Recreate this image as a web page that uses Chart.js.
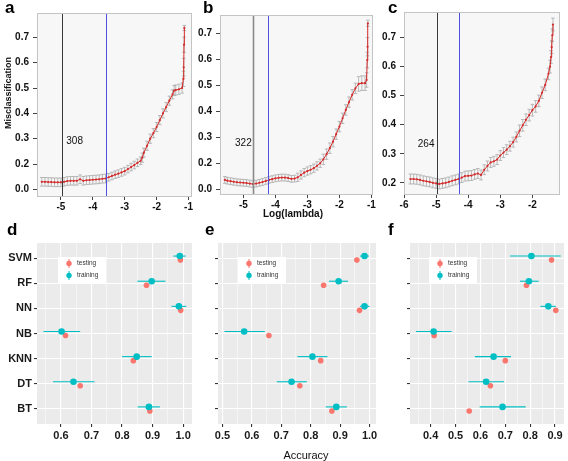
<!DOCTYPE html>
<html>
<head>
  <meta charset="utf-8">
  <title>Lasso CV curves and classifier accuracy</title>
  <script src="https://cdn.jsdelivr.net/npm/chart.js"></script>
  <style>
    body { margin: 0; background: #fff; font-family: 'Liberation Sans', Arial, sans-serif; }
    #fig { position: relative; width: 568px; height: 461px; overflow: hidden; }
    canvas { position: absolute; }
    .tag { position: absolute; font: bold 17px 'Liberation Sans', Arial, sans-serif; line-height: 17px; color: #000; }
    .lab { position: absolute; white-space: nowrap; color: #111; line-height: 12px; }
  </style>
</head>
<body>
  <div id="fig">
    <canvas id="a" width="196" height="226" style="left:0;top:0"></canvas>
    <canvas id="b" width="184" height="226" style="left:196px;top:0"></canvas>
    <canvas id="c" width="194" height="226" style="left:374px;top:0"></canvas>
    <canvas id="d" width="196" height="233" style="left:0;top:228px"></canvas>
    <canvas id="e" width="184" height="233" style="left:196px;top:228px"></canvas>
    <canvas id="f" width="184" height="233" style="left:384px;top:228px"></canvas>

    <div class="tag" style="left:5px;top:-1px">a</div>
    <div class="tag" style="left:203px;top:-1px">b</div>
    <div class="tag" style="left:388px;top:-1px">c</div>
    <div class="tag" style="left:7px;top:221px">d</div>
    <div class="tag" style="left:205px;top:221px">e</div>
    <div class="tag" style="left:388px;top:221px">f</div>

    <div class="lab" style="left:-34px;top:88px;width:84px;text-align:center;font:bold 9px 'Liberation Sans',Arial;transform:rotate(-90deg)">Misclassification</div>
    <div class="lab" style="left:253px;top:208px;width:80px;text-align:center;font:bold 10px 'Liberation Sans',Arial">Log(lambda)</div>
    <div class="lab" style="left:266px;top:449px;width:80px;text-align:center;font:11px 'Liberation Sans',Arial">Accuracy</div>
  </div>

  <script>
    // ---- a-c: cross-validated misclassification vs log(lambda) ----
    const aLogLambda = [-5.6, -5.5, -5.4, -5.3, -5.2, -5.1, -5.0, -4.9, -4.8, -4.7,
                        -4.6, -4.5, -4.4, -4.3, -4.2, -4.1, -4.0, -3.9, -3.8, -3.7,
                        -3.6, -3.5, -3.4, -3.3, -3.2, -3.1, -3.0, -2.9, -2.8, -2.7,
                        -2.6, -2.5, -2.45, -2.4, -2.3, -2.2, -2.1, -2.0, -1.9, -1.8,
                        -1.7, -1.6, -1.5, -1.45, -1.4, -1.3, -1.2, -1.16, -1.15, -1.14, -1.13];
    const aMisclass = [0.130, 0.130, 0.129, 0.129, 0.128, 0.128, 0.128, 0.130, 0.133, 0.134,
                       0.134, 0.134, 0.140, 0.134, 0.136, 0.137, 0.138, 0.139, 0.140, 0.142,
                       0.143, 0.148, 0.153, 0.158, 0.162, 0.167, 0.172, 0.180, 0.188, 0.196,
                       0.205, 0.213, 0.225, 0.245, 0.272, 0.300, 0.322, 0.346, 0.373, 0.400,
                       0.425, 0.450, 0.475, 0.490, 0.492, 0.495, 0.500, 0.536, 0.582, 0.671, 0.737];
    const aSE = [0.017, 0.017, 0.017, 0.017, 0.017, 0.017, 0.017, 0.017, 0.017, 0.017,
                 0.017, 0.017, 0.017, 0.017, 0.017, 0.017, 0.017, 0.017, 0.017, 0.017,
                 0.017, 0.015, 0.015, 0.015, 0.015, 0.015, 0.015, 0.015, 0.015, 0.015,
                 0.015, 0.015, 0.018, 0.018, 0.018, 0.018, 0.018, 0.018, 0.018, 0.018,
                 0.018, 0.018, 0.018, 0.020, 0.020, 0.020, 0.020, 0.030, 0.035, 0.030, 0.010];

    const bLogLambda = [-5.58, -5.5, -5.4, -5.3, -5.2, -5.1, -5.0, -4.9, -4.8, -4.7,
                        -4.6, -4.5, -4.4, -4.3, -4.2, -4.1, -4.0, -3.9, -3.8, -3.7,
                        -3.6, -3.5, -3.4, -3.3, -3.2, -3.1, -3.0, -2.9, -2.8, -2.7,
                        -2.6, -2.5, -2.4, -2.3, -2.2, -2.1, -2.0, -1.9, -1.8, -1.7,
                        -1.6, -1.5, -1.4, -1.3, -1.2, -1.15, -1.13, -1.12, -1.11];
    const bMisclass = [0.136, 0.133, 0.131, 0.129, 0.127, 0.126, 0.125, 0.124, 0.122, 0.120,
                       0.122, 0.125, 0.128, 0.132, 0.136, 0.139, 0.142, 0.144, 0.145, 0.145,
                       0.143, 0.140, 0.141, 0.146, 0.155, 0.164, 0.170, 0.175, 0.181, 0.190,
                       0.200, 0.215, 0.235, 0.258, 0.283, 0.312, 0.341, 0.373, 0.405, 0.435,
                       0.463, 0.488, 0.505, 0.508, 0.508, 0.520, 0.597, 0.648, 0.738];
    const bSE = [0.013, 0.013, 0.013, 0.013, 0.013, 0.013, 0.013, 0.013, 0.013, 0.013,
                 0.013, 0.013, 0.013, 0.013, 0.013, 0.013, 0.013, 0.013, 0.013, 0.013,
                 0.013, 0.013, 0.013, 0.016, 0.016, 0.016, 0.016, 0.016, 0.016, 0.016,
                 0.016, 0.020, 0.020, 0.020, 0.020, 0.020, 0.020, 0.020, 0.020, 0.020,
                 0.020, 0.020, 0.028, 0.028, 0.028, 0.028, 0.030, 0.035, 0.012];

    const cLogLambda = [-5.8, -5.7, -5.6, -5.5, -5.4, -5.3, -5.2, -5.1, -5.0, -4.9,
                        -4.8, -4.7, -4.6, -4.5, -4.4, -4.3, -4.2, -4.1, -4.0, -3.9,
                        -3.8, -3.7, -3.6, -3.5, -3.4, -3.3, -3.2, -3.1, -3.0, -2.9,
                        -2.8, -2.7, -2.6, -2.5, -2.4, -2.3, -2.2, -2.1, -2.0, -1.9,
                        -1.8, -1.7, -1.6, -1.5, -1.45, -1.42, -1.40, -1.38, -1.36];
    const cMisclass = [0.213, 0.213, 0.212, 0.210, 0.207, 0.205, 0.203, 0.200, 0.198, 0.196,
                       0.198, 0.200, 0.203, 0.207, 0.210, 0.213, 0.218, 0.223, 0.224, 0.225,
                       0.229, 0.232, 0.227, 0.245, 0.258, 0.270, 0.274, 0.280, 0.294, 0.304,
                       0.314, 0.326, 0.340, 0.358, 0.379, 0.398, 0.417, 0.433, 0.450, 0.463,
                       0.482, 0.510, 0.537, 0.575, 0.600, 0.633, 0.667, 0.708, 0.745];
    const cSE = [0.017, 0.017, 0.017, 0.017, 0.017, 0.017, 0.017, 0.017, 0.017, 0.017,
                 0.017, 0.017, 0.017, 0.017, 0.017, 0.017, 0.017, 0.017, 0.017, 0.017,
                 0.017, 0.017, 0.017, 0.017, 0.017, 0.017, 0.017, 0.017, 0.017, 0.017,
                 0.017, 0.017, 0.017, 0.017, 0.020, 0.020, 0.020, 0.020, 0.020, 0.020,
                 0.020, 0.020, 0.020, 0.020, 0.022, 0.022, 0.022, 0.022, 0.022];

    // lambda.min / lambda.1se markers and number of selected features
    const aMarks = [-4.96, -3.58], bMarks = [-4.69, -4.22], cMarks = [-4.97, -4.28];
    const aCount = '308', bCount = '322', cCount = '264';

    // tick values / labels (bottom tick of a and b is printed as 0.0)
    const lambdaTicksAB = [-5, -4, -3, -2, -1];
    const lambdaTicksC = [-6, -5, -4, -3, -2];
    const misTicksAB = [0.1, 0.2, 0.3, 0.4, 0.5, 0.6, 0.7];
    const misLabelsAB = ['0.0', '0.2', '0.3', '0.4', '0.5', '0.6', '0.7'];
    const misTicksC = [0.2, 0.3, 0.4, 0.5, 0.6, 0.7];
    const misLabelsC = ['0.2', '0.3', '0.4', '0.5', '0.6', '0.7'];

    // ---- d-f: accuracy per classifier ----
    const models = ['SVM', 'RF', 'NN', 'NB', 'KNN', 'DT', 'BT'];
    const dTrain   = [0.989, 0.897, 0.986, 0.602, 0.848, 0.641, 0.888];
    const dTrainLo = [0.968, 0.850, 0.962, 0.543, 0.800, 0.574, 0.851];
    const dTrainHi = [1.008, 0.942, 1.010, 0.663, 0.897, 0.710, 0.924];
    const dTest    = [0.991, 0.880, 0.992, 0.615, 0.837, 0.663, 0.891];

    const eTrain   = [0.983, 0.895, 0.983, 0.574, 0.806, 0.735, 0.887];
    const eTrainLo = [0.968, 0.862, 0.968, 0.507, 0.755, 0.685, 0.851];
    const eTrainHi = [0.998, 0.927, 1.000, 0.644, 0.857, 0.787, 0.923];
    const eTest    = [0.957, 0.844, 0.966, 0.658, 0.834, 0.763, 0.872];

    const fTrain   = [0.805, 0.795, 0.873, 0.412, 0.653, 0.623, 0.689];
    const fTrainLo = [0.719, 0.759, 0.841, 0.341, 0.578, 0.552, 0.597];
    const fTrainHi = [0.923, 0.834, 0.903, 0.484, 0.723, 0.695, 0.782];
    const fTest    = [0.886, 0.785, 0.903, 0.414, 0.700, 0.640, 0.555];

    const dAccTicks = [0.6, 0.7, 0.8, 0.9, 1.0];
    const eAccTicks = [0.5, 0.6, 0.7, 0.8, 0.9, 1.0];
    const fAccTicks = [0.4, 0.5, 0.6, 0.7, 0.8, 0.9];

    const FONT = "'Liberation Sans', Arial, sans-serif";
    const RED = '#F8766D', TEAL = '#00BFC4';

    // background, error bars, marker lines, notes and the small legend
    const panelPlugin = {
      id: 'panel',
      beforeDraw(chart, args, o) {
        const a = chart.chartArea, ctx = chart.ctx;
        ctx.save();
        ctx.fillStyle = o.bg;
        ctx.fillRect(a.left, a.top, a.right - a.left, a.bottom - a.top);
        ctx.restore();
      },
      beforeDatasetsDraw(chart) {
        const ctx = chart.ctx, xs = chart.scales.x, ys = chart.scales.y;
        chart.data.datasets.forEach(ds => {
          const e = ds.errorBars;
          if (!e) return;
          ctx.save();
          ctx.strokeStyle = e.color;
          ctx.lineWidth = e.width;
          ds.data.forEach((p, i) => {
            ctx.beginPath();
            if (e.horizontal) {
              const py = ys.getPixelForValue(p.y);
              ctx.moveTo(xs.getPixelForValue(e.lo[i]), py);
              ctx.lineTo(xs.getPixelForValue(e.hi[i]), py);
            } else {
              const px = xs.getPixelForValue(p.x);
              const y1 = ys.getPixelForValue(e.lo[i]), y2 = ys.getPixelForValue(e.hi[i]);
              ctx.moveTo(px, y1); ctx.lineTo(px, y2);
              ctx.moveTo(px - e.cap, y1); ctx.lineTo(px + e.cap, y1);
              ctx.moveTo(px - e.cap, y2); ctx.lineTo(px + e.cap, y2);
            }
            ctx.stroke();
          });
          ctx.restore();
        });
      },
      afterDatasetsDraw(chart, args, o) {
        const ctx = chart.ctx, a = chart.chartArea, xs = chart.scales.x, ys = chart.scales.y;
        ctx.save();
        (o.vlines || []).forEach(v => {
          const px = Math.round(xs.getPixelForValue(v.x)) + 0.5;
          ctx.strokeStyle = v.color;
          ctx.lineWidth = v.width;
          ctx.beginPath(); ctx.moveTo(px, a.top); ctx.lineTo(px, a.bottom); ctx.stroke();
        });
        if (o.note) {
          ctx.fillStyle = '#111';
          ctx.font = '10px ' + FONT;
          ctx.textAlign = 'center';
          ctx.textBaseline = 'middle';
          ctx.fillText(o.note.text, xs.getPixelForValue(o.note.x), ys.getPixelForValue(o.note.y));
        }
        if (o.frame) {
          ctx.strokeStyle = o.frame;
          ctx.lineWidth = 1;
          ctx.strokeRect(Math.round(a.left) + 0.5, Math.round(a.top) + 0.5,
                         Math.round(a.right - a.left) - 1, Math.round(a.bottom - a.top) - 1);
        }
        if (o.key) {
          const bx = a.left + o.key.dx, by = a.top + o.key.dy;
          ctx.fillStyle = '#fff';
          ctx.fillRect(bx, by, 48, 26);
          [['testing', RED, 6.5], ['training', TEAL, 18.5]].forEach(([txt, col, dy]) => {
            const cy = by + dy, cx = bx + 11;
            ctx.strokeStyle = col; ctx.lineWidth = 1;
            ctx.beginPath(); ctx.moveTo(cx, cy - 4.5); ctx.lineTo(cx, cy + 4.5); ctx.stroke();
            ctx.fillStyle = col;
            ctx.beginPath(); ctx.arc(cx, cy, 2.7, 0, Math.PI * 2); ctx.fill();
            ctx.fillStyle = '#333';
            ctx.font = '6.5px ' + FONT;
            ctx.textAlign = 'left';
            ctx.textBaseline = 'middle';
            ctx.fillText(txt, bx + 19, cy);
          });
        }
        ctx.restore();
      }
    };

    function fixedTicks(values) {
      return s => { s.ticks = values.map(v => ({ value: v })); };
    }

    function cvChart(id, xs, ys, se, marks, count, note, box) {
      const pts = xs.map((x, i) => ({ x: x, y: ys[i] }));
      new Chart(document.getElementById(id), {
        type: 'scatter',
        data: {
          datasets: [{
            data: pts,
            showLine: true,
            borderColor: '#d42a2a',
            borderWidth: 1,
            pointRadius: 1.1,
            pointBackgroundColor: '#d42a2a',
            pointBorderWidth: 0,
            errorBars: {
              lo: ys.map((v, i) => v - se[i]),
              hi: ys.map((v, i) => v + se[i]),
              color: '#a9a9a9', width: 0.8, cap: 1.8
            }
          }]
        },
        options: {
          responsive: false,
          animation: false,
          devicePixelRatio: 1,
          layout: { padding: { top: box.top, right: box.right, left: 0, bottom: 0 } },
          scales: {
            x: {
              type: 'linear', min: box.xMin, max: box.xMax,
              afterBuildTicks: fixedTicks(box.xTicks),
              afterFit: s => { s.height = box.xH; },
              ticks: { font: { family: FONT, size: 10, weight: 'bold' }, color: '#111',
                       padding: 1, maxRotation: 0, autoSkip: false },
              grid: { drawOnChartArea: false, color: '#444', tickLength: 3 },
              border: { display: false }
            },
            y: {
              type: 'linear', min: box.yMin, max: box.yMax,
              afterBuildTicks: fixedTicks(box.yTicks),
              afterFit: s => { s.width = box.yW; },
              ticks: { font: { family: FONT, size: 10, weight: 'bold' }, color: '#111',
                       padding: 4, autoSkip: false, callback: (v, i) => box.yLabels[i] },
              grid: { drawOnChartArea: false, color: '#444', tickLength: 4 },
              border: { display: false }
            }
          },
          plugins: {
            legend: { display: false },
            tooltip: { enabled: false },
            panel: {
              bg: '#f7f7f7',
              frame: '#c4c4c4',
              vlines: [{ x: marks[0], color: box.minColor, width: box.minWidth },
                       { x: marks[1], color: '#4f4fe0', width: 1 }],
              note: { text: count, x: note[0], y: note[1] }
            }
          }
        },
        plugins: [panelPlugin]
      });
    }

    function accChart(id, train, lo, hi, test, majors, box) {
      const n = models.length;
      const rowOf = i => n - i;  // SVM on top
      const ticks = [];
      majors.forEach(m => {
        [m - 0.05, m].forEach(t => { if (t >= box.xMin && t <= box.xMax) ticks.push(t); });
      });
      const last = majors[majors.length - 1] + 0.05;
      if (last <= box.xMax) ticks.push(last);
      const isMajor = v => majors.includes(v);

      new Chart(document.getElementById(id), {
        type: 'scatter',
        data: {
          datasets: [
            {
              label: 'training',
              data: train.map((v, i) => ({ x: v, y: rowOf(i) + 0.08 })),
              pointRadius: 3.3, pointBackgroundColor: TEAL, pointBorderWidth: 0,
              errorBars: { horizontal: true, lo: lo, hi: hi, color: TEAL, width: 1.1 }
            },
            {
              label: 'testing',
              data: test.map((v, i) => ({ x: v, y: rowOf(i) - 0.08 })),
              pointRadius: 2.8, pointBackgroundColor: RED, pointBorderWidth: 0
            }
          ]
        },
        options: {
          responsive: false,
          animation: false,
          devicePixelRatio: 1,
          layout: { padding: { top: 15, right: box.right, left: 0, bottom: 0 } },
          scales: {
            x: {
              type: 'linear', min: box.xMin, max: box.xMax,
              afterBuildTicks: fixedTicks(ticks),
              afterFit: s => { s.height = 37; },
              ticks: { font: { family: FONT, size: 11, weight: 'bold' }, color: '#1a1a1a',
                       padding: 2, maxRotation: 0, autoSkip: false,
                       callback: (v) => isMajor(v) ? v.toFixed(1) : '' },
              grid: {
                color: '#ffffff',
                lineWidth: c => (c.tick && isMajor(c.tick.value)) ? 1.1 : 0.5,
                tickColor: c => (c.tick && isMajor(c.tick.value)) ? '#333' : 'rgba(0,0,0,0)',
                tickLength: 3
              },
              border: { display: false }
            },
            y: {
              type: 'linear', min: 0.4, max: n + 0.6,
              afterBuildTicks: fixedTicks(models.map((m, i) => rowOf(i)).reverse()),
              afterFit: s => { s.width = box.yW; },
              ticks: { font: { family: FONT, size: 11, weight: 'bold' }, color: '#1a1a1a',
                       padding: 2, autoSkip: false,
                       callback: v => box.showNames ? models[n - v] : '' },
              grid: { color: '#ffffff', lineWidth: 1.1, tickColor: '#333', tickLength: 3 },
              border: { display: false }
            }
          },
          plugins: {
            legend: { display: false },
            tooltip: { enabled: false },
            panel: { bg: '#ebebeb', key: { dx: box.keyDx, dy: 14 } }
          }
        },
        plugins: [panelPlugin]
      });
    }

    cvChart('a', aLogLambda, aMisclass, aSE, aMarks, aCount, [-4.57, 0.291], {
      top: 13, right: 3, yW: 37, xH: 29, xMin: -5.75, xMax: -0.89, yMin: 0.07, yMax: 0.796,
      xTicks: lambdaTicksAB, yTicks: misTicksAB, yLabels: misLabelsAB, minColor: '#3a3a3a', minWidth: 1
    });
    cvChart('b', bLogLambda, bMisclass, bSE, bMarks, bCount, [-5.0, 0.278], {
      top: 15, right: 7, yW: 24, xH: 31, xMin: -5.73, xMax: -0.95, yMin: 0.078, yMax: 0.770,
      xTicks: lambdaTicksAB, yTicks: misTicksAB, yLabels: misLabelsAB, minColor: '#8a8a8a', minWidth: 1.6
    });
    cvChart('c', cLogLambda, cMisclass, cSE, cMarks, cCount, [-5.31, 0.331], {
      top: 12, right: 8, yW: 30, xH: 31, xMin: -6.0, xMax: -1.14, yMin: 0.158, yMax: 0.788,
      xTicks: lambdaTicksC, yTicks: misTicksC, yLabels: misLabelsC, minColor: '#3a3a3a', minWidth: 1
    });

    accChart('d', dTrain, dTrainLo, dTrainHi, dTest, dAccTicks,
             { xMin: 0.5216, xMax: 1.029, yW: 37, right: 4, showNames: true, keyDx: 21 });
    accChart('e', eTrain, eTrainLo, eTrainHi, eTest, eAccTicks,
             { xMin: 0.485, xMax: 1.022, yW: 22, right: 3.5, showNames: false, keyDx: 20 });
    accChart('f', fTrain, fTrainLo, fTrainHi, fTest, fAccTicks,
             { xMin: 0.317, xMax: 0.936, yW: 26, right: 1.5, showNames: false, keyDx: 19 });
  </script>
</body>
</html>
